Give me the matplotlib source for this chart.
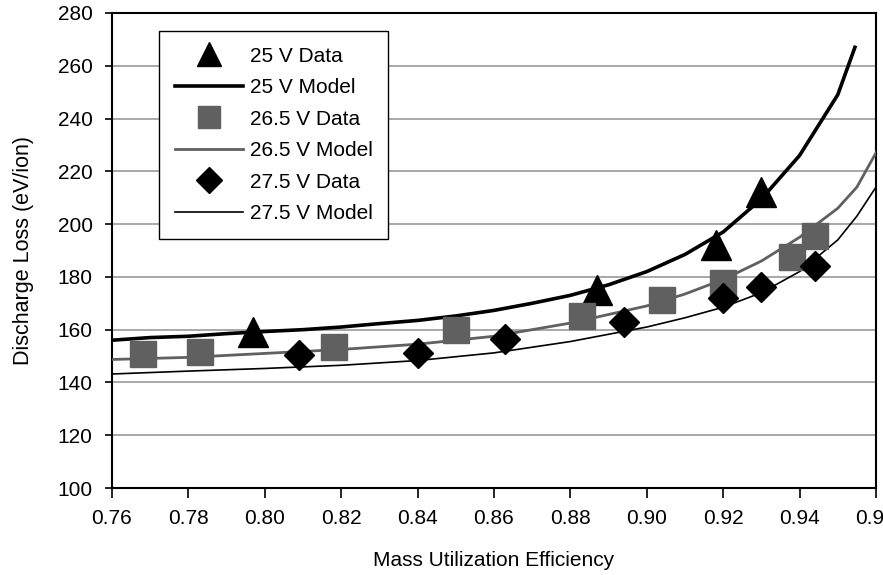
import matplotlib
matplotlib.use("Agg")
import matplotlib.pyplot as plt

plt.rcParams['font.family'] = ['Liberation Sans', 'DejaVu Sans']

# Data points
x25 = [0.797, 0.887, 0.918, 0.930]
y25 = [159, 175, 192, 212]

x265 = [0.768, 0.783, 0.818, 0.850, 0.883, 0.904, 0.920, 0.938, 0.944]
y265 = [150.8, 151.5, 153.4, 159.8, 165.2, 171.2, 177.7, 187.5, 195.5]

x275 = [0.809, 0.840, 0.863, 0.894, 0.920, 0.930, 0.944]
y275 = [150.4, 151.0, 156.4, 162.9, 172.0, 176.0, 184.0]

# Model curves
mx25 = [0.76, 0.77, 0.78, 0.79, 0.80, 0.81, 0.82, 0.83, 0.84, 0.85, 0.86, 0.87,
        0.88, 0.89, 0.90, 0.91, 0.92, 0.93, 0.94, 0.95, 0.9545]
my25 = [156.0, 157.0, 157.5, 158.5, 159.3, 160.0, 161.0, 162.3, 163.5, 165.2, 167.3, 170.0,
        173.0, 177.0, 182.0, 188.5, 197.0, 209.5, 226.0, 249.0, 267.0]

mx265 = [0.76, 0.78, 0.80, 0.82, 0.84, 0.86, 0.88, 0.90, 0.91, 0.92, 0.93, 0.94,
         0.95, 0.955, 0.96]
my265 = [148.7, 149.5, 151.0, 152.5, 154.5, 157.5, 162.5, 169.0, 173.5, 179.0, 186.0, 195.0,
         206.0, 214.0, 227.0]

mx275 = [0.76, 0.78, 0.80, 0.82, 0.84, 0.86, 0.88, 0.90, 0.91, 0.92, 0.93, 0.94,
         0.95, 0.955, 0.96]
my275 = [143.2, 144.3, 145.3, 146.5, 148.3, 151.2, 155.5, 161.0, 164.5, 168.5, 174.0, 182.0,
         194.0, 203.0, 214.0]

xticks = [0.76, 0.78, 0.80, 0.82, 0.84, 0.86, 0.88, 0.90, 0.92, 0.94, 0.96]
yticks = [100, 120, 140, 160, 180, 200, 220, 240, 260, 280]

gray = '#606060'
fs = 15

fig = plt.figure(figsize=(8.83, 5.75), dpi=100)
ax = fig.add_axes([0.1268, 0.1513, 0.8652, 0.8261])

ax.plot(x25, y25, linestyle='none', marker='^', ms=21, color='black', label='25 V Data', zorder=4)
ax.plot(mx25, my25, color='black', lw=2.6, label='25 V Model', zorder=3)
ax.plot(x265, y265, linestyle='none', marker='s', ms=18.5, color=gray, label='26.5 V Data', zorder=4)
ax.plot(mx265, my265, color=gray, lw=2.0, label='26.5 V Model', zorder=3)
ax.plot(x275, y275, linestyle='none', marker='D', ms=15, color='black', label='27.5 V Data', zorder=4)
ax.plot(mx275, my275, color='black', lw=1.2, label='27.5 V Model', zorder=3)

ax.set_xlim(0.76, 0.96)
ax.set_ylim(100, 280)
ax.set_xticks(xticks)
ax.set_xticklabels([f'{v:.2f}' for v in xticks])
ax.set_yticks(yticks)
ax.yaxis.grid(True, color='#999999', lw=1.2)
ax.set_axisbelow(True)
for s in ax.spines.values():
    s.set_linewidth(1.5)
    s.set_color('black')
ax.tick_params(axis='x', direction='out', length=7, width=1.2, labelsize=fs, pad=8)
ax.tick_params(axis='y', direction='out', length=5, width=1.2, labelsize=fs, pad=9)

ax.set_xlabel('Mass Utilization Efficiency', fontsize=fs, labelpad=17)
ax.set_ylabel('Discharge Loss (eV/ion)', fontsize=15.5, labelpad=17)

leg = ax.legend(loc='upper left', bbox_to_anchor=(0.0615, 0.962), fontsize=fs,
                frameon=True, fancybox=False, handlelength=3.3, handletextpad=0.3,
                labelspacing=0.6, borderpad=0.75, borderaxespad=0, markerscale=0.85)
leg.get_frame().set_edgecolor('black')
leg.get_frame().set_linewidth(1.0)
leg.get_frame().set_alpha(1)

fig.savefig('out.png', dpi=100)
